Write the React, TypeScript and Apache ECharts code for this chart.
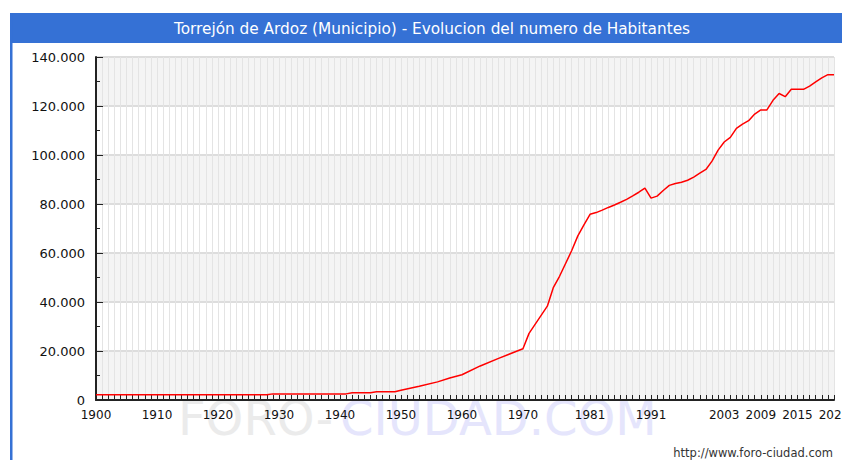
import { useEffect, useRef } from 'react';
import * as echarts from 'echarts';

const TITLE = 'Torrejón de Ardoz (Municipio) - Evolucion del numero de Habitantes';
const SOURCE_URL = 'http://www.foro-ciudad.com';
const WATERMARK_A = 'FORO-';
const WATERMARK_B = 'CIUDAD.COM';

const FIRST_YEAR = 1900;
const LAST_YEAR = 2021;
const LABEL_YEARS = [1900, 1910, 1920, 1930, 1940, 1950, 1960, 1970, 1981, 1991, 2003, 2009, 2015, 2021];

const Y_MIN = 0;
const Y_MAX = 140000;
const Y_STEP = 20000;

// years where the line changes direction
const KEY_YEARS = [
  1900, 1928, 1929, 1941, 1942, 1945, 1946, 1949, 1950, 1953, 1956, 1958, 1960, 1963, 1966, 1970,
  1971, 1974, 1975, 1976, 1978, 1979, 1980, 1981, 1982, 1983, 1984, 1985, 1986, 1987, 1988, 1989,
  1990, 1991, 1992, 1993, 1994, 1995, 1996, 1997, 1998, 1999, 2000, 2001, 2002, 2003, 2004, 2005,
  2006, 2007, 2008, 2009, 2010, 2011, 2012, 2013, 2014, 2015, 2016, 2017, 2018, 2019, 2020, 2021,
];
const KEY_VALUES = [
  2100, 2100, 2500, 2500, 3000, 3000, 3400, 3400, 4000, 5600, 7400, 9000, 10300, 13900, 17000, 20900,
  27200, 38300, 46000, 50500, 61000, 67000, 71500, 75800, 76500, 77500, 78600, 79600, 80700, 81900, 83300, 84800,
  86500, 82400, 83200, 85500, 87600, 88400, 88900, 89700, 91000, 92600, 94100, 97500, 102000, 105300, 107200, 110900,
  112600, 114000, 116700, 118400, 118400, 122300, 125100, 123800, 126800, 126800, 126800, 128100, 129800, 131500, 132800, 132800,
];

const fmt = (v: number) => String(v).replace(/\B(?=(\d{3})+(?!\d))/g, '.');

export default function App() {
  const ref = useRef<HTMLDivElement>(null);
  useEffect(() => {
    if (!ref.current) return;
    const chart = echarts.init(ref.current, null, { renderer: 'svg' });
    const years: string[] = [];
    for (let y = FIRST_YEAR; y <= LAST_YEAR; y++) years.push(String(y));
    const data = years.map((y) => {
      const i = KEY_YEARS.indexOf(Number(y));
      return i >= 0 ? KEY_VALUES[i] : null;
    });
    const blue = '#3571d5';
    chart.setOption({
      animation: false,
      backgroundColor: '#ffffff',
      textStyle: { fontFamily: 'DejaVu Sans' },
      graphic: [
        { type: 'rect', z: 100, shape: { x: 10, y: 13, width: 840, height: 30 }, style: { fill: blue } },
        { type: 'rect', z: 100, shape: { x: 10, y: 13, width: 2.5, height: 460 }, style: { fill: blue } },
        {
          type: 'text', z: 101, x: 432, y: 28.5,
          style: { text: TITLE, fill: '#ffffff', fontSize: 15.3, fontFamily: 'DejaVu Sans', align: 'center', verticalAlign: 'middle' },
        },
        {
          type: 'text', z: -10, x: 178, y: 418,
          style: { text: WATERMARK_A, fill: '#ebebeb', fontSize: 48, fontFamily: 'DejaVu Sans', align: 'left', verticalAlign: 'middle' },
        },
        {
          type: 'text', z: -10, x: 340, y: 418,
          style: { text: WATERMARK_B, fill: '#e5e5fc', fontSize: 48, fontFamily: 'DejaVu Sans', align: 'left', verticalAlign: 'middle' },
        },
        {
          type: 'text', z: 101, x: 833, y: 453,
          style: { text: SOURCE_URL, fill: '#333333', fontSize: 11.5, fontFamily: 'DejaVu Sans', align: 'right', verticalAlign: 'middle' },
        },
      ],
      grid: { left: 96, top: 57, width: 738, height: 343, outerBoundsMode: 'none', containLabel: false },
      xAxis: {
        type: 'category',
        data: years,
        boundaryGap: false,
        axisLine: { show: true, lineStyle: { color: '#222222', width: 2 } },
        axisTick: { show: true, inside: true, length: 5, interval: 0, lineStyle: { color: '#222222' } },
        axisLabel: {
          interval: (_i: number, v: string) => LABEL_YEARS.includes(Number(v)),
          color: '#111111', fontSize: 12, margin: 9, fontFamily: 'DejaVu Sans',
        },
        splitLine: { show: true, interval: 0, lineStyle: { color: '#e4e4e4', width: 1 } },
      },
      yAxis: {
        type: 'value',
        min: Y_MIN,
        max: Y_MAX,
        interval: Y_STEP,
        axisLine: { show: true, lineStyle: { color: '#222222', width: 2 } },
        axisTick: { show: true, inside: true, length: 7, lineStyle: { color: '#222222' } },
        minorTick: { show: true, splitNumber: 2, length: 4, lineStyle: { color: '#222222' } },
        axisLabel: { formatter: (v: number) => fmt(v), color: '#111111', fontSize: 13, margin: 11, fontFamily: 'DejaVu Sans' },
        splitLine: { show: true, lineStyle: { color: '#dddddd', width: 2 } },
        splitArea: { show: true, areaStyle: { color: ['#f4f4f4', '#ffffff'] } },
      },
      series: [
        {
          type: 'line',
          data,
          connectNulls: true,
          symbol: 'none',
          showSymbol: false,
          lineStyle: { color: '#ff0000', width: 1.5 },
          z: 5,
        },
      ],
    });
    return () => chart.dispose();
  }, []);
  return <div ref={ref} style={{ position: 'fixed', left: 0, top: 0, width: 842, height: 460 }} />;
}
